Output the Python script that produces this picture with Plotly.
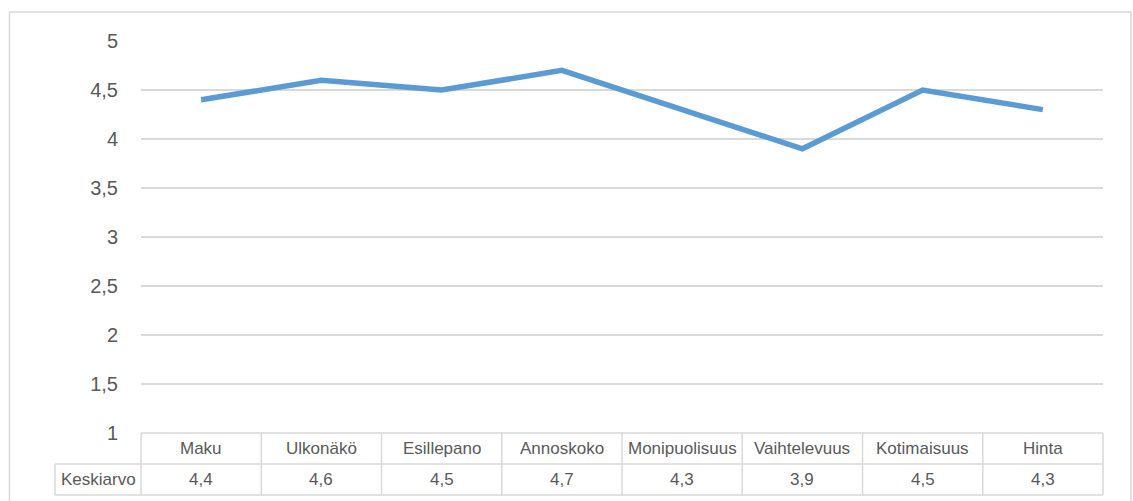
import plotly.graph_objects as go

# Ratings per attribute (mean score)
categories = ["Maku", "Ulkonäkö", "Esillepano", "Annoskoko",
              "Monipuolisuus", "Vaihtelevuus", "Kotimaisuus", "Hinta"]
values = [4.4, 4.6, 4.5, 4.7, 4.3, 3.9, 4.5, 4.3]
series_name = "Keskiarvo"
y_ticks = [1, 1.5, 2, 2.5, 3, 3.5, 4, 4.5, 5]

W, H = 1133, 501
ML, MR, MT, MB = 141, 30, 41, 68
PW = W - ML - MR
PH = H - MT - MB

GRID = "#d9d9d9"
TEXT = "#595959"
LINE = "#5b9bd5"
FONT = "Liberation Sans"


def fmt(v):
    return f"{v:g}".replace(".", ",")


def px_x(px):
    return (px - ML) / PW


def px_y(py):
    return (H - MB - py) / PH


x_idx = list(range(len(categories)))

fig = go.Figure()
fig.add_trace(go.Scatter(
    x=x_idx, y=values, mode="lines",
    line=dict(color=LINE, width=5.5),
    hoverinfo="skip", showlegend=False, cliponaxis=False,
))

shapes = []
annotations = []

# Outer chart frame
shapes.append(dict(type="rect", xref="paper", yref="paper",
                   x0=px_x(9.5), x1=px_x(1131), y0=px_y(520), y1=px_y(12),
                   line=dict(color=GRID, width=1.5), fillcolor="rgba(0,0,0,0)",
                   layer="below"))

# Data table below the plot
row_h = 31
y_top = px_y(H - MB)
y_mid = px_y(H - MB + row_h)
y_bot = px_y(H - MB + 2 * row_h)
label_left = px_x(55)
n = len(categories)
border = dict(color=GRID, width=1.5)

# horizontal rules
shapes.append(dict(type="line", xref="paper", yref="paper", x0=0, x1=1,
                   y0=y_top, y1=y_top, line=border))
shapes.append(dict(type="line", xref="paper", yref="paper", x0=label_left, x1=1,
                   y0=y_mid, y1=y_mid, line=border))
shapes.append(dict(type="line", xref="paper", yref="paper", x0=label_left, x1=1,
                   y0=y_bot, y1=y_bot, line=border))
# vertical rules
shapes.append(dict(type="line", xref="paper", yref="paper", x0=label_left, x1=label_left,
                   y0=y_mid, y1=y_bot, line=border))
for k in range(n + 1):
    xp = k / n
    shapes.append(dict(type="line", xref="paper", yref="paper", x0=xp, x1=xp,
                       y0=y_top, y1=y_bot, line=border))

tfont = dict(family=FONT, size=17, color=TEXT)
for i, (c, v) in enumerate(zip(categories, values)):
    annotations.append(dict(x=i, xref="x", y=(y_top + y_mid) / 2, yref="paper",
                            text=c, showarrow=False, font=tfont,
                            xanchor="center", yanchor="middle"))
    annotations.append(dict(x=i, xref="x", y=(y_mid + y_bot) / 2, yref="paper",
                            text=fmt(v), showarrow=False, font=tfont,
                            xanchor="center", yanchor="middle"))
annotations.append(dict(x=(label_left + 0) / 2, xref="paper", y=(y_mid + y_bot) / 2,
                        yref="paper", text=series_name, showarrow=False, font=tfont,
                        xanchor="center", yanchor="middle"))

fig.update_layout(
    width=W, height=H,
    margin=dict(l=ML, r=MR, t=MT, b=MB, pad=0),
    paper_bgcolor="white", plot_bgcolor="white",
    shapes=shapes, annotations=annotations,
    xaxis=dict(range=[-0.5, n - 0.5], showgrid=False, zeroline=False,
               showticklabels=False, showline=False, ticks="", fixedrange=True),
    yaxis=dict(range=[1, 5], tickvals=y_ticks, ticktext=[fmt(t) for t in y_ticks],
               showgrid=True, gridcolor=GRID, gridwidth=1.5, zeroline=False,
               showline=False, ticks="", ticklabelstandoff=22,
               tickfont=dict(family=FONT, size=20, color=TEXT), fixedrange=True),
    font=dict(family=FONT, color=TEXT),
)

fig.write_html("out.html")
